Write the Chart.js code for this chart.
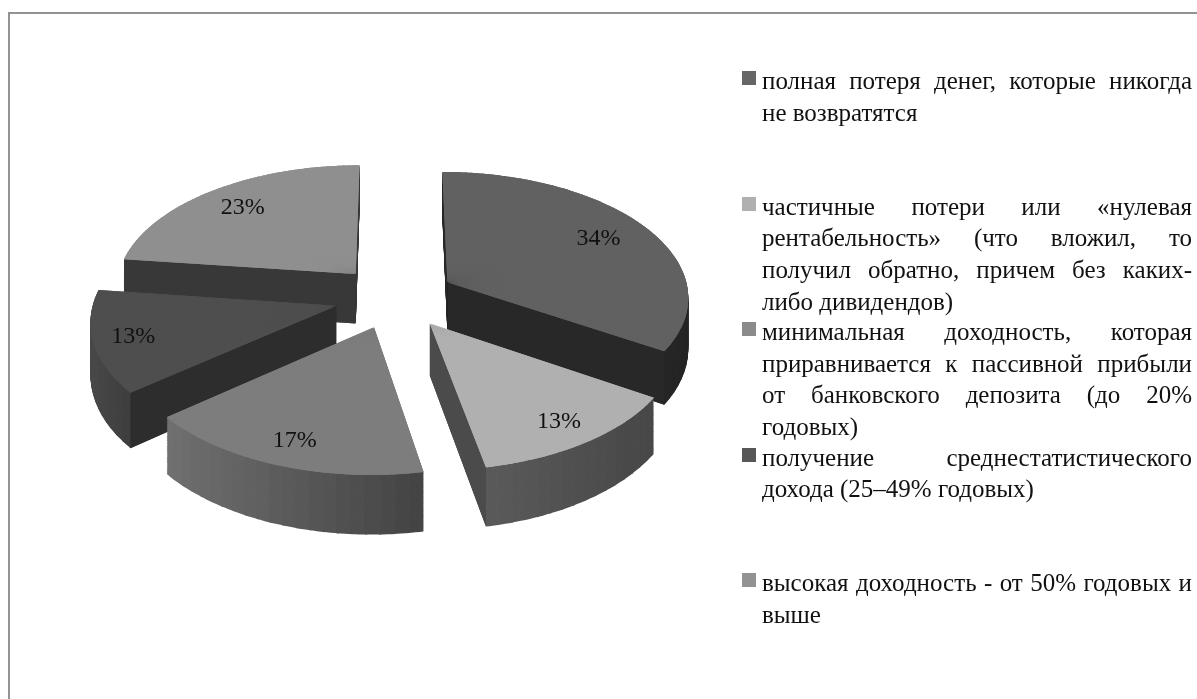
<!DOCTYPE html>
<html>
<head>
    <meta charset="utf-8">
    <title>Доходность инвестиций</title>
    <script src="https://cdn.jsdelivr.net/npm/chart.js"></script>
    <style>
        html, body {
            margin: 0;
            background: #fff;
            overflow: hidden;
        }
        #frame {
            position: absolute;
            left: 8px;
            top: 12px;
            width: 1189px;
            height: 687px;
            border-left: 2px solid #939393;
            border-top: 2px solid #939393;
            box-sizing: border-box;
        }
        #pie {
            position: absolute;
            left: 0;
            top: 0;
        }
        #legend {
            position: absolute;
            left: 742px;
            top: 65px;
            width: 450px;
            font-family: "Liberation Serif", serif;
            font-size: 25px;
            line-height: 31.7px;
            color: #111;
        }
        .item {
            position: relative;
            height: 125.5px;
            padding-left: 20px;
            text-align: justify;
        }
        .swatch {
            position: absolute;
            left: 0;
            top: 6px;
            width: 14px;
            height: 14px;
        }
    </style>
</head>
<body>
    <div id="frame"></div>
    <canvas id="pie" width="1197" height="699"></canvas>
    <div id="legend"></div>

    <script>
        // Chart data
        const categories = [
            'полная потеря денег, которые никогда не возвратятся',
            'частичные потери или «нулевая рентабельность» (что вложил, то получил обратно, причем без каких-либо дивидендов)',
            'минимальная доходность, которая приравнивается к пассивной прибыли от банковского депозита (до 20% годовых)',
            'получение среднестатистического дохода (25–49% годовых)',
            'высокая доходность - от 50% годовых и выше'
        ];
        const shares = [34, 13, 17, 13, 23];

        // Greys per slice
        const faceGrey = [97, 176, 125, 78, 143];
        const swatchGrey = [102, 176, 139, 87, 146];
        const innerWallGrey = [40, 75, 70, 45, 56];
        const outerWallLeft = [38, 90, 112, 74, 60];
        const outerWallRight = [38, 72, 69, 63, 60];

        // Perspective view of the pie plane
        const view = { cx: 395, cy: 297, rx: 242, ry: 125, persp: 0.107 };
        const explode = 0.25;
        const labelRadius = [0.76, 0.84, 0.84, 0.84, 0.78];
        // Extrusion depth grows towards the viewer
        const depth = { base: 50, y0: 282, slope: 0.05 };
        const pieceAngle = 3 * Math.PI / 180;
        const seam = 0.5 * Math.PI / 180;

        function grey(v) {
            const g = Math.round(v);
            return `rgb(${g},${g},${g})`;
        }

        function project(u, v) {
            const w = 1 / (1 - view.persp * v);
            return { x: view.cx + view.rx * u * w, y: view.cy + view.ry * v * w };
        }

        function depthAt(y) {
            return depth.base + depth.slope * (y - depth.y0);
        }

        // Point on the plane for an angle on a slice pushed out along its middle
        function planePoint(mid, angle, radius) {
            return project(
                explode * Math.cos(mid) + radius * Math.cos(angle),
                explode * Math.sin(mid) + radius * Math.sin(angle)
            );
        }

        // Affine map taking a thin sector of the arc onto its projected triangle
        function sectorMatrix(arc, mid, a0, a1) {
            const r = arc.outerRadius;
            const d1x = r * Math.cos(a0), d1y = r * Math.sin(a0);
            const d2x = r * Math.cos(a1), d2y = r * Math.sin(a1);
            const t0 = planePoint(mid, 0, 0);
            const t1 = planePoint(mid, a0, 1);
            const t2 = planePoint(mid, a1, 1);
            const det = d1x * d2y - d2x * d1y;
            const a = ((t1.x - t0.x) * d2y - (t2.x - t0.x) * d1y) / det;
            const c = ((t2.x - t0.x) * d1x - (t1.x - t0.x) * d2x) / det;
            const b = ((t1.y - t0.y) * d2y - (t2.y - t0.y) * d1y) / det;
            const d = ((t2.y - t0.y) * d1x - (t1.y - t0.y) * d2x) / det;
            return [a, b, c, d, t0.x - a * arc.x - c * arc.y, t0.y - b * arc.x - d * arc.y];
        }

        function drawPiece(ctx, arc, start, end, color) {
            const piece = Object.create(arc);
            piece.startAngle = start;
            piece.endAngle = end;
            piece.circumference = end - start;
            piece.options = Object.assign({}, arc.options, { backgroundColor: color, borderWidth: 0 });
            piece.draw(ctx);
        }

        // Cuts a slice into thin sectors, shift moves the cuts by a fraction of a step
        function splitSlice(arc, shift) {
            const count = Math.ceil((arc.endAngle - arc.startAngle) / pieceAngle);
            const step = (arc.endAngle - arc.startAngle) / count;
            const mid = (arc.startAngle + arc.endAngle) / 2;
            const pieces = [];
            for (let i = 0; i < count; i++) {
                const a0 = i === 0 ? arc.startAngle : arc.startAngle + (i + shift) * step;
                const a1 = i === count - 1 ? arc.endAngle : arc.startAngle + (i + 1 + shift) * step + seam;
                pieces.push({ a0, a1, matrix: sectorMatrix(arc, mid, a0, a1), rim: planePoint(mid, (a0 + a1) / 2, 1) });
            }
            return pieces.sort((p, q) => p.rim.y - q.rim.y);
        }

        function drawOuterWall(ctx, arc, pieces, index) {
            const xs = pieces.map(p => p.rim.x);
            const minX = Math.min(...xs), maxX = Math.max(...xs);
            const steps = Math.ceil(depth.base + 12);
            pieces.forEach(p => {
                const f = maxX > minX ? (p.rim.x - minX) / (maxX - minX) : 0;
                const color = grey(outerWallLeft[index] + f * (outerWallRight[index] - outerWallLeft[index]));
                for (let s = steps; s > 0; s--) {
                    const t = s / steps;
                    ctx.save();
                    // Lower layers of the block, pushed down by the depth at their own height
                    ctx.setTransform(1, 0, 0, 1 + t * depth.slope, 0, t * (depth.base - depth.slope * depth.y0));
                    ctx.transform(...p.matrix);
                    drawPiece(ctx, arc, p.a0, p.a1, color);
                    ctx.restore();
                }
            });
        }

        function drawRadialWall(ctx, mid, angle, other, color) {
            const a = planePoint(mid, 0, 0);
            const p = planePoint(mid, angle, 1);
            const c = planePoint(mid, other, 1);
            const ex = p.x - a.x, ey = p.y - a.y;
            // Only walls facing the viewer are drawn
            const inside = ex * (c.y - a.y) - ey * (c.x - a.x);
            if (inside * ex >= 0) return;
            ctx.fillStyle = color;
            ctx.beginPath();
            ctx.moveTo(a.x, a.y);
            ctx.lineTo(p.x, p.y);
            ctx.lineTo(p.x, p.y + depthAt(p.y));
            ctx.lineTo(a.x, a.y + depthAt(a.y));
            ctx.closePath();
            ctx.fill();
        }

        function drawFace(ctx, arc, pieces, color) {
            pieces.forEach(p => {
                ctx.save();
                ctx.setTransform(...p.matrix);
                drawPiece(ctx, arc, p.a0, p.a1, color);
                ctx.restore();
            });
        }

        const pie3d = {
            id: 'pie3d',
            beforeDatasetsDraw(chart) {
                const ctx = chart.ctx;
                const arcs = chart.getDatasetMeta(0).data;
                const midOf = arc => (arc.startAngle + arc.endAngle) / 2;
                const order = arcs.map((arc, i) => i).sort((i, j) => Math.sin(midOf(arcs[i])) - Math.sin(midOf(arcs[j])));

                order.forEach(i => {
                    const arc = arcs[i];
                    const mid = midOf(arc);
                    const pieces = splitSlice(arc, 0);
                    drawOuterWall(ctx, arc, pieces, i);
                    drawRadialWall(ctx, mid, arc.startAngle, mid, grey(innerWallGrey[i]));
                    drawRadialWall(ctx, mid, arc.endAngle, mid, grey(innerWallGrey[i]));
                    // Second pass with shifted cuts closes the hairlines between sectors
                    drawFace(ctx, arc, pieces, grey(faceGrey[i]));
                    drawFace(ctx, arc, splitSlice(arc, 0.5), grey(faceGrey[i]));
                });

                ctx.save();
                ctx.font = '24px "Liberation Serif", serif';
                ctx.fillStyle = '#111';
                ctx.textAlign = 'center';
                ctx.textBaseline = 'middle';
                arcs.forEach((arc, i) => {
                    const mid = midOf(arc);
                    const at = planePoint(mid, mid, labelRadius[i]);
                    ctx.fillText(shares[i] + '%', at.x, at.y);
                });
                ctx.restore();
                return false;
            }
        };

        new Chart(document.getElementById('pie'), {
            type: 'pie',
            data: {
                labels: categories,
                datasets: [{ data: shares, backgroundColor: faceGrey.map(grey), borderWidth: 0 }]
            },
            options: {
                responsive: false,
                animation: false,
                events: [],
                plugins: { legend: { display: false }, tooltip: { enabled: false } }
            },
            plugins: [pie3d]
        });

        // Legend column next to the pie
        const legend = document.getElementById('legend');
        categories.forEach((text, i) => {
            const item = document.createElement('div');
            item.className = 'item';
            const swatch = document.createElement('span');
            swatch.className = 'swatch';
            swatch.style.background = grey(swatchGrey[i]);
            item.appendChild(swatch);
            item.appendChild(document.createTextNode(text));
            legend.appendChild(item);
        });
    </script>
</body>
</html>
